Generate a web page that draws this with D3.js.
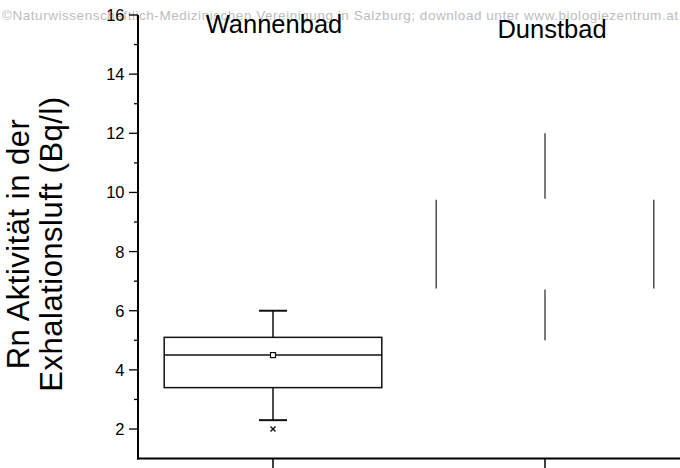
<!DOCTYPE html>
<html>
<head>
<meta charset="utf-8">
<script src="https://cdn.jsdelivr.net/npm/d3@7"></script>
<style>
  body { margin: 0; background: #fff; }
  svg { display: block; font-family: "Liberation Sans", Arial, sans-serif; }
</style>
</head>
<body>
<svg width="680" height="468"></svg>
<script>
// box statistics per bath type
const groups = ["Wannenbad", "Dunstbad"];
const q1 = [3.4, 6.75];
const median = [4.5, 8.0];
const q3 = [5.1, 9.75];
const whiskerLow = [2.3, 5.0];
const whiskerHigh = [6.0, 12.0];
const means = [4.5, 8.7];
const outliers = [[2.0], []];

const majorTicks = [2, 4, 6, 8, 10, 12, 14, 16];
const minorTicks = [3, 5, 7, 9, 11, 13, 15];

const watermark = "©Naturwissenschaftlich-Medizinischen Vereinigung in Salzburg; download unter www.biologiezentrum.at";
const yLabel = ["Rn Aktivität in der", "Exhalationsluft (Bq/l)"];

// the Dunstbad box is mostly washed out in the print: only its vertical strokes remain
const faded = "Dunstbad";

const svg = d3.select("svg");

const y = d3.scaleLinear().domain([1, 16]).range([458.6, 15]);
const x = d3.scaleBand().domain(groups).range([137, 681]).padding(0);
const boxW = x.bandwidth() * 0.8;
const capW = 28;

svg.append("text")
  .attr("x", 2).attr("y", 20)
  .attr("textLength", 676)
  .attr("font-size", 13.5)
  .attr("fill", "#bdbdbd")
  .text(watermark);

// y axis
const yAxis = svg.append("g");
yAxis.append("line")
  .attr("x1", 138).attr("x2", 138)
  .attr("y1", y(16)).attr("y2", y(1) + 1)
  .attr("stroke", "#000").attr("stroke-width", 2);
yAxis.selectAll(".major").data(majorTicks).enter().append("line")
  .attr("x1", 129).attr("x2", 138)
  .attr("y1", d => y(d)).attr("y2", d => y(d))
  .attr("stroke", "#000").attr("stroke-width", 1.3);
yAxis.selectAll(".minor").data(minorTicks).enter().append("line")
  .attr("x1", 134).attr("x2", 138)
  .attr("y1", d => y(d)).attr("y2", d => y(d))
  .attr("stroke", "#000").attr("stroke-width", 1.3);
yAxis.selectAll("text").data(majorTicks).enter().append("text")
  .attr("x", 124.5).attr("y", d => y(d))
  .attr("dy", "0.36em")
  .attr("text-anchor", "end")
  .attr("font-size", 16.5)
  .text(d => d);

// x axis
svg.append("line")
  .attr("x1", 137).attr("x2", 680)
  .attr("y1", y(1)).attr("y2", y(1))
  .attr("stroke", "#000").attr("stroke-width", 2);
svg.selectAll(".xtick").data(groups).enter().append("line")
  .attr("x1", d => x(d) + x.bandwidth() / 2).attr("x2", d => x(d) + x.bandwidth() / 2)
  .attr("y1", y(1)).attr("y2", 468)
  .attr("stroke", "#000").attr("stroke-width", 1.5);

// group titles at the top
svg.selectAll(".title").data(groups).enter().append("text")
  .attr("x", (d, i) => x(d) + x.bandwidth() / 2 + (i === 0 ? 1 : 7))
  .attr("y", (d, i) => i === 0 ? 33 : 38)
  .attr("text-anchor", "middle")
  .attr("font-size", 25.5)
  .text(d => d);

// y label (two rotated lines)
const yl = svg.append("text")
  .attr("transform", "translate(0,244) rotate(-90)")
  .attr("text-anchor", "middle")
  .attr("font-size", 31)
  .attr("letter-spacing", 0.5);
yLabel.forEach((t, i) => {
  yl.append("tspan").attr("x", 0).attr("y", 29 + i * 33).text(t);
});

// boxes
groups.forEach((g, i) => {
  const cx = x(g) + x.bandwidth() / 2;
  const left = cx - boxW / 2, right = cx + boxW / 2;
  const b = svg.append("g").attr("stroke", "#111").attr("stroke-width", 1.5).attr("fill", "none");

  if (g === faded) {
    b.attr("stroke", "#333").attr("stroke-width", 1.3);
    [left, right].forEach(px => {
      b.append("line").attr("x1", px).attr("x2", px).attr("y1", y(q3[i])).attr("y2", y(q1[i]));
    });
    b.append("line").attr("x1", cx).attr("x2", cx).attr("y1", y(whiskerHigh[i])).attr("y2", y(q3[i]) - 1);
    b.append("line").attr("x1", cx).attr("x2", cx).attr("y1", y(q1[i]) + 1).attr("y2", y(whiskerLow[i]));
    return;
  }

  b.append("rect")
    .attr("x", left).attr("y", y(q3[i]))
    .attr("width", boxW).attr("height", y(q1[i]) - y(q3[i]));
  b.append("line").attr("x1", left).attr("x2", right).attr("y1", y(median[i])).attr("y2", y(median[i]));
  b.append("line").attr("x1", cx).attr("x2", cx).attr("y1", y(q3[i])).attr("y2", y(whiskerHigh[i]));
  b.append("line").attr("x1", cx).attr("x2", cx).attr("y1", y(q1[i])).attr("y2", y(whiskerLow[i]));
  [whiskerHigh[i], whiskerLow[i]].forEach(v => {
    b.append("line").attr("x1", cx - capW / 2).attr("x2", cx + capW / 2).attr("y1", y(v)).attr("y2", y(v))
      .attr("stroke-width", 2);
  });
  // mean marker
  b.append("rect")
    .attr("x", cx - 2.5).attr("y", y(means[i]) - 2.5)
    .attr("width", 5).attr("height", 5)
    .attr("fill", "#fff").attr("stroke-width", 1.2);
  // outliers
  outliers[i].forEach(v => {
    b.append("path")
      .attr("d", `M${cx - 2.5},${y(v) - 2.5}L${cx + 2.5},${y(v) + 2.5}M${cx + 2.5},${y(v) - 2.5}L${cx - 2.5},${y(v) + 2.5}`)
      .attr("stroke-width", 1.4);
  });
});
</script>
</body>
</html>
